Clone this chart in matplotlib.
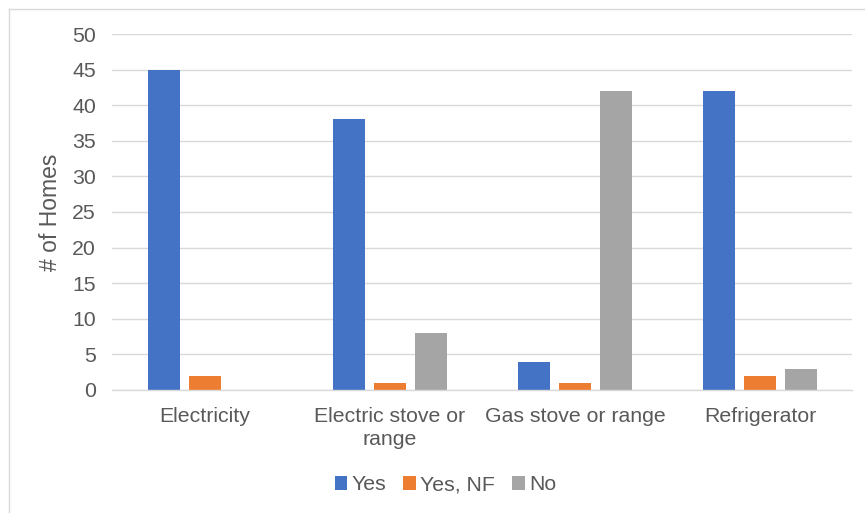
import numpy as np
import matplotlib
matplotlib.use("Agg")
from matplotlib import pyplot as plt
from matplotlib.lines import Line2D

plt.rcParams['font.family'] = ['Liberation Sans', 'DejaVu Sans']

categories = ["Electricity", "Electric stove or\nrange", "Gas stove or range", "Refrigerator"]
yes = [45, 38, 4, 42]
yes_nf = [2, 1, 1, 2]
no = [0, 8, 42, 3]
series_names = ["Yes", "Yes, NF", "No"]
colors = ["#4472C4", "#ED7D31", "#A5A5A5"]
y_ticks = [0, 5, 10, 15, 20, 25, 30, 35, 40, 45, 50]

text_col = "#595959"
grid_col = "#D9D9D9"
fs = 15.3

fig = plt.figure(figsize=(8.65, 5.13), dpi=100)
ax = fig.add_axes([0.130, 0.2398, 0.8555, 0.6939])

x = np.arange(len(categories))
step = 0.2216
width = 0.173
for i, (vals, name, c) in enumerate(zip([yes, yes_nf, no], series_names, colors)):
    ax.bar(x + (i - 1) * step, vals, width, color=c, label=name, zorder=3)

ax.set_xlim(-0.5, len(categories) - 0.5)
ax.set_ylim(0, 50)
ax.set_yticks(y_ticks)
ax.set_xticks(x)
ax.set_xticklabels(categories, linespacing=1.3)
ax.grid(axis='y', color=grid_col, linewidth=1, zorder=0)
for s in ['top', 'right', 'left']:
    ax.spines[s].set_visible(False)
ax.spines['bottom'].set_color(grid_col)
ax.spines['bottom'].set_linewidth(1)
ax.spines['bottom'].set_zorder(4)
ax.tick_params(axis='both', length=0, labelsize=fs, labelcolor=text_col)
ax.tick_params(axis='y', pad=12)
ax.tick_params(axis='x', pad=12)
ax.set_ylabel("# of Homes", fontsize=16.5, color=text_col, labelpad=7)

leg = fig.legend(loc='center', bbox_to_anchor=(0.515, 1 - 485 / 513), ncol=3,
                 frameon=False, fontsize=fs, handlelength=0.6, handleheight=0.6,
                 handletextpad=0.2, columnspacing=0.8)
for t in leg.get_texts():
    t.set_color(text_col)

# chart frame (left and top edges visible)
fig.add_artist(Line2D([8.5 / 865, 8.5 / 865], [0, 1 - 8.5 / 513], color=grid_col, lw=1))
fig.add_artist(Line2D([8.5 / 865, 1], [1 - 8.5 / 513, 1 - 8.5 / 513], color=grid_col, lw=1))

fig.savefig("out.png", dpi=100)
